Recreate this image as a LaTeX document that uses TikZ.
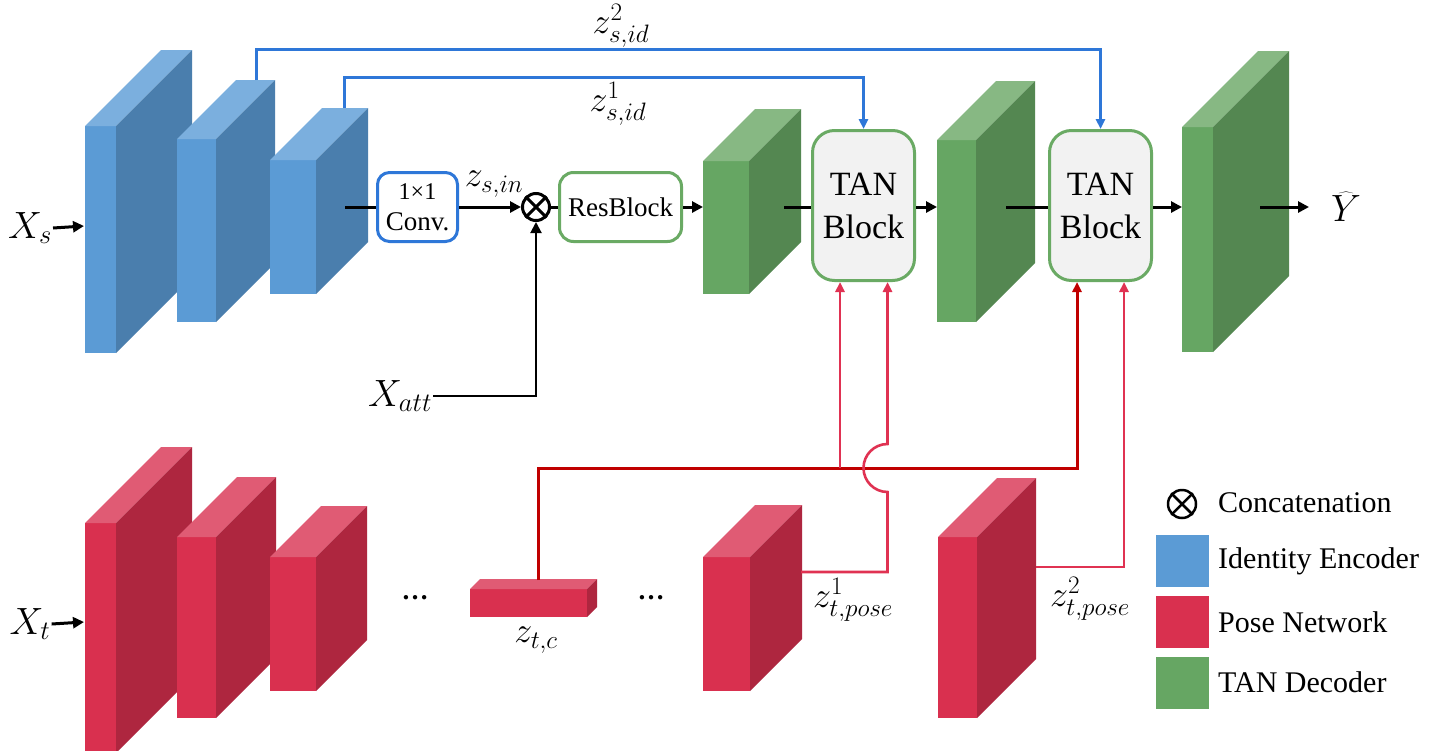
\documentclass[tikz,border=0pt]{standalone}
\usepackage{fix-cm}
\usepackage{fontspec}
\setmainfont{Liberation Serif}
\newfontfamily\tnr{Liberation Serif}
\usetikzlibrary{arrows.meta,calc}
\definecolor{bF}{HTML}{5B9BD5}
\definecolor{bS}{HTML}{4A7EAD}
\definecolor{bT}{HTML}{7BAFDE}
\definecolor{gF}{HTML}{66A663}
\definecolor{gS}{HTML}{548751}
\definecolor{gT}{HTML}{87B883}
\definecolor{rF}{HTML}{D9304F}
\definecolor{rS}{HTML}{AE263F}
\definecolor{rT}{HTML}{E05B74}
\definecolor{lblue}{HTML}{2E77D8}
\definecolor{dred}{HTML}{C00000}
\definecolor{pred}{HTML}{E03252}
\definecolor{gborder}{HTML}{6AAA64}
\definecolor{tanfill}{HTML}{F2F2F2}
\newcommand\mycuboid[6]{% x, y, w, h, d, prefix
  \fill[#6F] (#1,#2) rectangle ++(#3,#4);
  \fill[#6T] (#1,#2) -- ++(#5,-#5) -- ++(#3,0) -- ++(-#5,#5) -- cycle;
  \fill[#6S] (#1+#3,#2) -- ++(#5,-#5) -- ++(0,#4) -- ++(-#5,#5) -- cycle;
}
\tikzset{
  blk/.style={line width=3pt,black},
  arr/.style={-{Triangle[length=11pt,width=11pt]}},
  carr/.style={-{Triangle[length=10pt,width=9pt]}},
  blueline/.style={line width=3pt,lblue},
  zcline/.style={line width=3pt,dred},
  poseline/.style={line width=2.6pt,pred},
  mathlbl/.style={inner sep=1pt,font=\fontsize{38}{42}\selectfont},
  zlbl/.style={inner sep=1pt,font=\fontsize{36}{40}\selectfont},
  convbox/.style={draw=lblue,line width=3pt,rounded corners=12pt,minimum width=80pt,minimum height=69pt,inner sep=0pt,align=center,fill=white,font=\tnr\fontsize{27}{31}\selectfont},
  resbox/.style={draw=gborder,line width=3pt,rounded corners=14pt,minimum width=122pt,minimum height=69pt,inner sep=0pt,fill=white,font=\tnr\fontsize{27}{30}\selectfont},
  tanbox/.style={draw=gborder,line width=3pt,rounded corners=22pt,minimum width=102pt,minimum height=150pt,inner sep=0pt,fill=tanfill,align=center,font=\tnr\fontsize{34}{43}\selectfont},
  legsq/.style={minimum width=53pt,minimum height=52pt,inner sep=0pt},
  legtxt/.style={anchor=west,inner sep=0pt,font=\tnr\fontsize{30}{34}\selectfont},
  dots/.style={inner sep=0pt,font=\tnr\bfseries\fontsize{27}{30}\selectfont}
}
\begin{document}
\begin{tikzpicture}[x=1pt,y=-1pt]
\fill[white] (0,0) rectangle (1446,750);
\useasboundingbox (0,0) rectangle (1446,750);

% identity encoder
\mycuboid{85}{126}{31}{227}{76}{b}
\mycuboid{177}{139}{39}{183}{59}{b}
\mycuboid{270}{160}{46}{134}{52}{b}
% decoder
\mycuboid{703}{161}{46}{133}{52}{g}
\mycuboid{937}{140}{39}{182}{59}{g}
\mycuboid{1182}{127}{31}{225}{76}{g}
% pose network
\mycuboid{85}{523}{31}{230}{76}{r}
\mycuboid{177}{537}{39}{181}{60}{r}
\mycuboid{270}{557}{46}{134}{51}{r}
\mycuboid{470}{589}{117}{28}{10}{r}
\mycuboid{703}{557}{47}{134}{52}{r}
\mycuboid{938}{537}{39}{181}{59}{r}

% coordinates on the blocks
\coordinate (xsin) at (84,226);
\coordinate (xtin) at (84,622);
\coordinate (b2top) at (256,80);
\coordinate (b3top) at (344,108);
\coordinate (b3out) at (345,207);
\coordinate (g1in) at (703,207);
\coordinate (g1out) at (784,207);
\coordinate (g2in) at (937,207);
\coordinate (g2out) at (1006,207);
\coordinate (g3in) at (1182,207);
\coordinate (g3out) at (1260,207);
\coordinate (yend) at (1309,207);
\coordinate (ztctop) at (538,580);
\coordinate (r4side) at (801,572);
\coordinate (r5side) at (1036,567);

% boxes
\node[convbox] (conv) at (417.5,207) {{\fontsize{24}{27}\selectfont 1×1}\\Conv.};
\node[circle,draw,line width=3pt,minimum size=27pt,inner sep=0pt] (cat) at (536,207) {};
\draw[line width=3pt] (cat.north east) -- (cat.south west) (cat.north west) -- (cat.south east);
\node[resbox] (res) at (620.5,207) {ResBlock};
\node[tanbox] (tan1) at (863.5,205.5) {TAN\\Block};
\node[tanbox] (tan2) at (1100.5,205.5) {TAN\\Block};

% labels
\node[mathlbl] (xs) at (30,228) {$X_s$};
\node[mathlbl] (xt) at (30,624) {$X_t$};
\node[mathlbl] (xatt) at (400,396) {$X_{att}$};
\node[mathlbl] (yhat) at (1346,207) {$\widehat{Y}$};
\node[zlbl] (zsin) at (494,184) {$z_{s,in}$};
\node[zlbl] (zs2) at (621,26) {$z^2_{s,id}$};
\node[zlbl] (zs1) at (618,104) {$z^1_{s,id}$};
\node[zlbl] (ztc) at (536,640) {$z_{t,c}$};
\node[zlbl] (ztp1) at (853,600) {$z^1_{t,pose}$};
\node[zlbl] (ztp2) at (1090,599) {$z^2_{t,pose}$};
\node[dots] (d1) at (415,598) {…};
\node[dots] (d2) at (651,598) {…};

% main flow
\draw[blk,arr] (xs.east) -- (xsin);
\draw[blk,arr] (xt.east) -- (xtin);
\draw[blk] (b3out) -- (conv.west);
\draw[blk,arr] (conv.east) -- (cat.west);
\draw[blk] (cat.east) -- (res.west);
\draw[blk,arr] (res.east) -- (g1in);
\draw[blk] (g1out) -- (g1out -| tan1.west);
\draw[blk,arr] (tan1.east |- g2in) -- (g2in);
\draw[blk] (g2out) -- (g2out -| tan2.west);
\draw[blk,arr] (tan2.east |- g3in) -- (g3in);
\draw[blk,arr] (g3out) -- (yend);
\draw[line width=2pt,arr] (xatt.east) -| (cat.south);

% identity skip connections
\draw[blueline,carr] (b2top) -- ++(0,-31) -| (tan2.north);
\draw[blueline,carr] (b3top) -- ++(0,-31) -| (tan1.north);

% pose connections
\coordinate (t1a) at ([xshift=-23.5pt]tan1.south);
\coordinate (t1b) at ([xshift=24pt]tan1.south);
\coordinate (t2a) at ([xshift=-23.5pt]tan2.south);
\coordinate (t2b) at ([xshift=23.5pt]tan2.south);
\draw[zcline,carr] (ztctop) -- ++(0,-112) -| (t2a);
\coordinate (junc) at (t1a |- 0,468);
\draw[poseline,carr] (junc) -- (t1a);
\draw[poseline,carr] (r4side) -- (r4side -| t1b) -- ++(0,-80)
   arc[start angle=-90,end angle=-270,radius=24pt] -- (t1b);
\draw[poseline,carr] (r5side) -| (t2b);

% legend
\node[circle,draw,line width=2.5pt,minimum size=28pt,inner sep=0pt] (lc) at (1182,504) {};
\draw[line width=2.5pt] (lc.north east) -- (lc.south west) (lc.north west) -- (lc.south east);
\node[legtxt] (lt1) at (1218,503) {Concatenation};
\node[legsq,fill=bF] (lsb) at (1182.5,561) {};
\node[legtxt] (lt2) at (1218,561) {Identity Encoder};
\node[legsq,fill=rF] (lsr) at (1182.5,622) {};
\node[legtxt] (lt3) at (1218,622) {Pose Network};
\node[legsq,fill=gF] (lsg) at (1182.5,682.5) {};
\node[legtxt] (lt4) at (1218,682) {TAN Decoder};
\end{tikzpicture}
\end{document}
